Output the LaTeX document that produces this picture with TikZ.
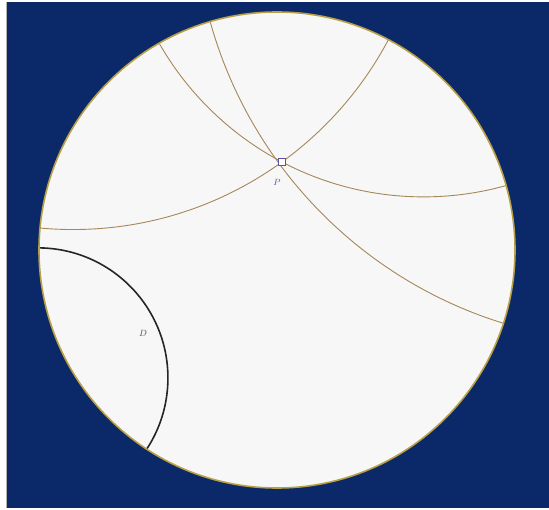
\documentclass[tikz,border=0pt]{standalone}
\definecolor{navybg}{RGB}{11,40,104}
\definecolor{diskfill}{RGB}{247,247,247}
\definecolor{rimcol}{RGB}{185,160,70}
\definecolor{geocol}{RGB}{165,135,90}
\definecolor{pcol}{RGB}{90,80,165}
\tikzset{
  geo/.style={draw=geocol, line width=0.9pt},
  dline/.style={draw=black!85, line width=1.6pt},
  rim/.style={draw=rimcol, line width=1.6pt},
  pmark/.style={draw=pcol, fill=white, line width=0.8pt, minimum size=7pt, inner sep=0pt, rectangle},
  lab/.style={font=\fontsize{9}{10}\selectfont, inner sep=1pt}
}
\begin{document}
\begin{tikzpicture}[x=1pt,y=-1pt]
\useasboundingbox (0,0) rectangle (549,510);
\fill[white] (0,0) rectangle (549,510);
\fill[navybg] (7,2) rectangle (549,508);
\draw[gray!60, line width=0.6pt] (6.5,2) -- (6.5,508);
\begin{scope}[shift={(277,250)}, x=238pt, y=238pt]
  \fill[diskfill] (0,0) circle (1);
  \begin{scope}
    \clip (0,0) circle (1);
    \draw[geo] (-0.8571,1.5852) circle (1.4992);
    \draw[geo] (0.6160,1.5018) circle (1.2786);
    \draw[geo] (1.4937,1.4520) circle (1.8411);
    \draw[dline] (-1.0047,-0.5375) circle (0.5464);
  \end{scope}
  \draw[rim] (0,0) circle (1);
  \node[pmark] (P) at (0.021,0.370) {};
  \node[lab, text=pcol] (Plab) at (0,0.286) {$P$};
  \node[lab, text=black!70] (Dlab) at (-0.563,-0.349) {$D$};
\end{scope}
\end{tikzpicture}
\end{document}
